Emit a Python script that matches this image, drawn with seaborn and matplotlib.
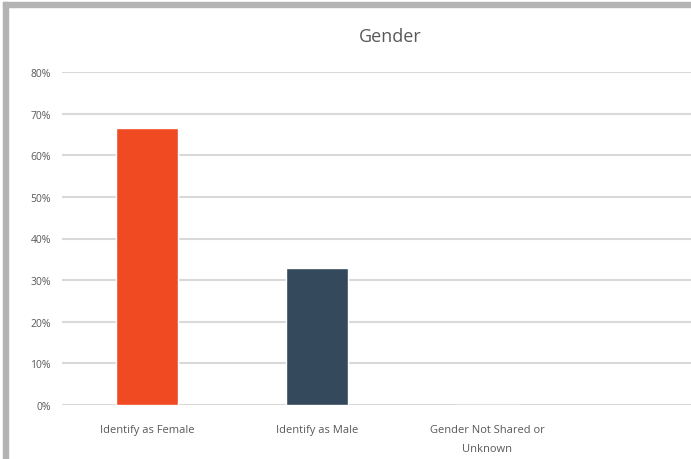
import matplotlib
matplotlib.use("Agg")
import matplotlib.pyplot as plt
from matplotlib.patches import Rectangle
from matplotlib.ticker import PercentFormatter
import seaborn as sns
import pandas as pd

categories = ["Identify as Female", "Identify as Male", "Gender Not Shared or\nUnknown"]
shares = [0.665, 0.33, 0.0]
bar_colors = ["#F04A22", "#344A5C", "#A5A5A5"]
yticks = [0.0, 0.1, 0.2, 0.3, 0.4, 0.5, 0.6, 0.7, 0.8]

df = pd.DataFrame({"category": categories, "share": shares})

sns.set_theme(style="white")
plt.rcParams["font.family"] = ["Open Sans", "DejaVu Sans"]

fig = plt.figure(figsize=(6.91, 4.60), dpi=100)
ax = fig.add_axes([62 / 691, 54 / 460, (691 - 62) / 691, 333 / 460])

sns.barplot(data=df, x="category", y="share", hue="category",
            palette=bar_colors, width=0.37, legend=False, ax=ax,
            saturation=1, zorder=3)

ax.set_ylim(0, 0.8)
ax.set_xlim(-0.5, 3.2)
ax.set_yticks(yticks)
ax.yaxis.set_major_formatter(PercentFormatter(1.0, decimals=0))
ax.grid(axis="y", color="#D9D9D9", linewidth=1.5, zorder=0)
ax.set_axisbelow(True)
for s in ax.spines.values():
    s.set_visible(False)
ax.tick_params(axis="y", length=0, pad=8, labelsize=7.5, labelcolor="#595959")
ax.tick_params(axis="x", length=0, pad=14, labelsize=8, labelcolor="#595959")
for lbl in ax.get_xticklabels():
    lbl.set_linespacing(2.0)
ax.set_xlabel("")
ax.set_ylabel("")

fig.text(390 / 691, 1 - 37 / 460, "Gender", ha="center", va="center",
         fontsize=13, color="#595959")

# grey frame on the left and top edges
fig.patches.append(Rectangle((3 / 691, 0), 5 / 691, 1 - 3 / 460,
                             transform=fig.transFigure, color="#B4B4B4", zorder=10))
fig.patches.append(Rectangle((3 / 691, 1 - 8 / 460), 1, 5 / 460,
                             transform=fig.transFigure, color="#B4B4B4", zorder=10))

fig.savefig("out.png", dpi=100)
